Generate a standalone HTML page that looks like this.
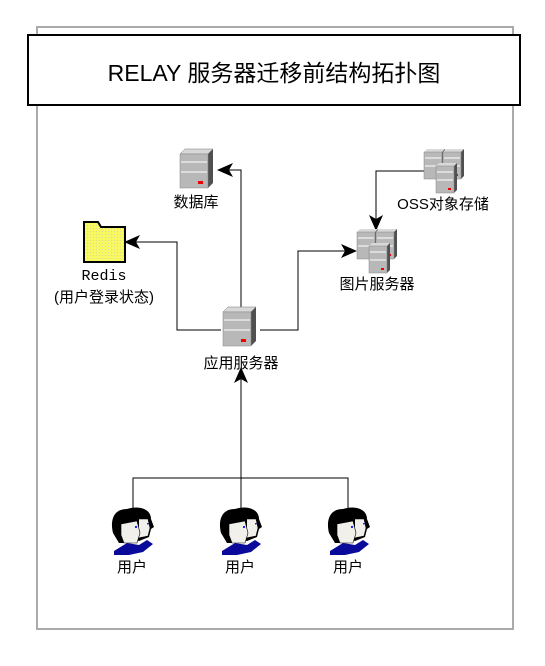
<!DOCTYPE html>
<html><head><meta charset="utf-8"><style>
html,body{margin:0;padding:0;background:#fff;}
svg{display:block;}
text{font-family:"Liberation Sans","Noto Sans CJK SC",sans-serif;font-size:15px;fill:#000;}
</style></head><body>
<svg width="545" height="666" viewBox="0 0 545 666" xmlns="http://www.w3.org/2000/svg">
<defs>
<pattern id="chk" width="3" height="3" patternUnits="userSpaceOnUse">
  <rect width="3" height="3" fill="#f8f860"/><rect width="1" height="1" fill="#d8d8a0"/>
</pattern>
<g id="srv">
  <polygon points="0,5 5,0 33,0 28,5" fill="#d8d8d8" stroke="#777" stroke-width="0.5"/>
  <polygon points="28,5 33,0 33,34 28,39" fill="#505050"/>
  <rect x="0" y="5" width="28" height="34" fill="#b8b8b8" stroke="#888" stroke-width="0.5"/>
  <line x1="1" y1="13" x2="27" y2="13" stroke="#fff"/>
  <line x1="1" y1="23" x2="27" y2="23" stroke="#fff"/>
  <rect x="18" y="32" width="5" height="3" fill="#e00"/>
</g>
<g id="srvs">
  <polygon points="0,3 3,0 21,0 18,3" fill="#d8d8d8"/>
  <polygon points="18,3 21,0 21,27 18,30" fill="#505050"/>
  <rect x="0" y="3" width="18" height="27" fill="#b8b8b8" stroke="#888" stroke-width="0.5"/>
  <line x1="1" y1="9" x2="17" y2="9" stroke="#fff"/>
  <line x1="1" y1="17" x2="17" y2="17" stroke="#fff"/>
  <rect x="12" y="25" width="3" height="2" fill="#e00"/>
</g>
<g id="cluster">
  <use href="#srvs" x="0" y="0"/>
  <use href="#srvs" x="19" y="0"/>
  <use href="#srvs" x="12" y="14"/>
</g>
<g id="user">
  <path d="M16,4 C28,0 40,4 40,14 L43,22 L40,24 L38,32 L28,36 L18,34 Z" fill="#000"/>
  <path d="M24,14 L37,14 L39,23 L37,31 L27,33 Z" fill="#f2f0ea" stroke="#000" stroke-width="0.6"/>
  <path d="M16,4 C2,4 -1,16 2,28 L8,38 L26,38 L28,24 L28,10 Z" fill="#000"/>
  <path d="M10,19 L26,16 L29,28 L26,38 L13,38 L10,30 Z" fill="#f2f0ea" stroke="#000" stroke-width="0.6"/>
  <rect x="24" y="21" width="2" height="2" fill="#22f"/>
  <rect x="36" y="18" width="1.5" height="1.5" fill="#22f"/>
  <path d="M3,46 L16,38 L28,40 L36,35 L42,39 L32,47 L18,50 L3,50 Z" fill="#0a0a9a"/>
</g>
<marker id="ar" markerWidth="16" markerHeight="14" refX="15" refY="7" orient="auto" markerUnits="userSpaceOnUse">
  <path d="M0,0 L16,7 L0,14 L4,7 Z" fill="#000"/>
</marker>
</defs>
<rect x="37" y="27" width="476" height="602" fill="#fff" stroke="#aaa" stroke-width="2"/>
<rect x="28" y="35" width="492" height="70" fill="#fff" stroke="#000" stroke-width="2"/>
<text x="274" y="81" text-anchor="middle" style="font-size:23px">RELAY 服务器迁移前结构拓扑图</text>

<g fill="none" stroke="#000" stroke-width="1">
  <polyline points="241,310 241,170 218,170" marker-end="url(#ar)"/>
  <polyline points="221,330 177,330 177,242 125,242" marker-end="url(#ar)"/>
  <polyline points="260,330 298,330 298,251 356,251" marker-end="url(#ar)"/>
  <polyline points="424,171 376,171 376,230" marker-end="url(#ar)"/>
  <polyline points="133,510 133,478 348,478 348,510"/>
  <polyline points="241,510 241,478"/>
  <polyline points="241,478 241,368" marker-end="url(#ar)"/>
</g>

<use href="#srv" x="180" y="149"/>
<use href="#srv" x="223" y="307"/>
<use href="#cluster" x="357" y="229"/>
<use href="#cluster" x="424" y="149"/>

<path d="M84,222 L98,222 L101,227 L125,227 L125,262 L84,262 Z" fill="url(#chk)" stroke="#000" stroke-width="2"/>

<use href="#user" x="111" y="505"/>
<use href="#user" x="219" y="505"/>
<use href="#user" x="327" y="505"/>

<text x="196" y="207" text-anchor="middle">数据库</text>
<text x="104" y="280" text-anchor="middle" style="font-family:'Liberation Mono',monospace">Redis</text>
<text x="104" y="302" text-anchor="middle">(用户登录状态)</text>
<text x="241" y="368" text-anchor="middle">应用服务器</text>
<text x="377" y="289" text-anchor="middle">图片服务器</text>
<text x="443" y="209" text-anchor="middle">OSS对象存储</text>
<text x="132" y="572" text-anchor="middle">用户</text>
<text x="240" y="572" text-anchor="middle">用户</text>
<text x="348" y="572" text-anchor="middle">用户</text>
</svg>
</body></html>
